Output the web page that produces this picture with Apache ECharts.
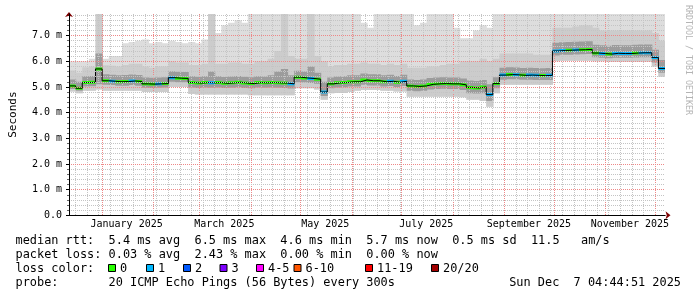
<!DOCTYPE html>
<html><head><meta charset="utf-8">
<script src="https://cdn.jsdelivr.net/npm/echarts@6/dist/echarts.min.js"></script>
<style>html,body{margin:0;padding:0;background:#fff}#c{width:697px;height:297px}</style>
</head><body><div id="c"></div>
<script>
// ---- data (one sample every 4 days, last 360 days) ----
const startTime = '2024-12-12T04:44:51';
const endTime = '2025-12-07T04:44:51';
const sampleDays = 4;

const median = [5.04,4.95,5.17,5.18,5.70,5.24,5.22,5.20,5.21,5.23,
5.21,5.12,5.11,5.12,5.13,5.36,5.34,5.33,5.17,5.15,
5.17,5.16,5.17,5.14,5.16,5.18,5.15,5.13,5.17,5.16,
5.17,5.16,5.15,5.12,5.38,5.35,5.33,5.30,4.80,5.12,
5.16,5.17,5.20,5.20,5.27,5.24,5.24,5.20,5.22,5.18,
5.22,5.04,5.02,5.04,5.10,5.12,5.13,5.12,5.12,5.08,
4.98,4.96,5.00,4.70,5.13,5.46,5.48,5.47,5.45,5.46,
5.45,5.44,5.45,6.40,6.42,6.43,6.44,6.45,6.46,6.32,
6.30,6.28,6.31,6.30,6.30,6.32,6.33,6.33,6.15,5.72];

const loss = [0,0,0,0,0,0,1,0,0,1,
0,0,0,1,0,1,0,0,0,0,
0,1,0,0,0,0,0,0,0,0,
0,0,0,1,0,0,1,0,1,0,
0,0,0,0,0,0,0,0,1,0,
1,0,0,0,0,0,0,0,0,0,
0,0,0,1,0,1,0,1,0,1,
1,0,1,1,1,0,1,0,0,0,
1,0,1,1,1,0,1,1,1,1];

const smokeMin = [4.82,4.75,4.85,4.85,4.90,4.85,4.85,4.85,4.85,4.85,
4.85,4.80,4.80,4.80,4.80,5.00,5.00,5.00,4.72,4.70,
4.70,4.70,4.70,4.70,4.70,4.70,4.70,4.68,4.68,4.68,
4.68,4.68,4.68,4.68,4.95,4.95,4.95,4.90,4.50,4.75,
4.76,4.76,4.80,4.85,4.88,4.88,4.88,4.85,4.85,4.82,
4.82,4.62,4.62,4.62,4.62,4.62,4.62,4.62,4.62,4.60,
4.50,4.50,4.45,4.23,4.75,5.08,5.08,5.08,5.08,5.08,
5.08,5.08,5.08,6.00,6.02,6.02,6.02,6.02,6.02,6.00,
6.00,5.98,5.98,5.98,5.98,5.98,5.98,5.98,5.80,5.40];

const smokeLow = [4.92,4.85,5.02,5.03,5.10,5.08,5.07,5.05,5.05,5.07,
5.05,4.97,4.96,4.97,4.98,5.20,5.18,5.18,4.98,4.96,
4.98,4.97,4.98,4.96,4.97,4.99,4.96,4.95,4.98,4.97,
4.98,4.97,4.96,4.94,5.18,5.17,5.15,5.12,4.65,4.95,
4.98,4.99,5.02,5.02,5.08,5.06,5.06,5.02,5.04,5.00,
5.04,4.85,4.83,4.85,4.90,4.92,4.93,4.92,4.92,4.88,
4.75,4.74,4.75,4.45,4.95,5.28,5.30,5.30,5.28,5.28,
5.27,5.27,5.27,6.22,6.25,6.25,6.26,6.27,6.28,6.16,
6.14,6.12,6.14,6.14,6.14,6.15,6.16,6.16,5.95,5.55];

const smokeHigh = [5.29,5.20,5.42,5.43,6.30,5.49,5.47,5.45,5.46,5.48,
5.46,5.37,5.36,5.37,5.38,5.61,5.59,5.58,5.42,5.40,
5.42,5.60,5.42,5.39,5.41,5.43,5.40,5.38,5.42,5.41,
5.45,5.60,5.70,5.45,5.63,5.60,5.80,5.55,5.20,5.37,
5.41,5.42,5.45,5.45,5.52,5.49,5.49,5.45,5.47,5.43,
5.47,5.29,5.27,5.29,5.35,5.37,5.38,5.37,5.37,5.33,
5.25,5.23,5.27,5.10,5.38,5.75,5.77,5.76,5.74,5.75,
5.74,5.73,5.74,6.72,6.74,6.75,6.76,6.77,6.78,6.64,
6.62,6.60,6.63,6.62,6.62,6.64,6.65,6.65,6.45,6.05];

const smokeMid = [5.64,5.55,5.77,5.80,7.84,5.84,5.82,5.80,5.85,5.90,
5.90,5.80,5.75,5.80,5.80,6.00,5.95,5.95,5.85,5.85,
5.90,7.84,5.90,5.90,5.95,5.95,5.90,5.90,6.00,6.00,
6.10,6.40,7.84,6.20,6.10,6.10,7.84,6.20,6.00,5.80,
5.85,5.85,5.90,5.90,5.95,5.90,5.90,5.85,5.90,5.85,
5.90,5.75,5.75,5.75,5.80,5.80,5.85,5.90,5.90,6.00,
6.00,6.00,6.10,6.00,6.10,6.30,6.30,6.30,6.30,6.30,
6.25,6.25,6.25,7.30,7.30,7.30,7.35,7.40,7.40,7.30,
7.20,7.20,7.20,7.20,7.20,7.20,7.20,7.20,7.10,6.80];

const smokeMax = [6.00,6.00,6.00,6.10,7.84,6.10,6.20,6.20,6.70,6.75,
6.80,6.85,6.70,6.75,6.70,6.80,6.75,6.70,6.75,6.70,
6.85,7.84,7.10,7.40,7.50,7.60,7.50,7.84,7.84,7.84,
7.84,7.84,7.84,7.84,7.84,7.84,7.84,7.84,7.84,7.84,
7.84,7.84,7.84,7.84,7.50,7.30,7.84,7.84,7.84,7.84,
7.84,7.84,7.40,7.50,7.84,7.84,7.84,7.84,7.30,6.90,
6.90,7.20,7.40,7.30,7.84,7.84,7.84,7.84,7.84,7.84,
7.84,7.84,7.84,7.84,7.84,7.84,7.84,7.84,7.84,7.84,
7.84,7.84,7.84,7.84,7.84,7.84,7.84,7.84,7.84,7.84];

const tickDates = ['2025-01-16','2025-03-16','2025-05-16','2025-07-16','2025-09-16','2025-11-16'];
const tickLabels = ['January 2025','March 2025','May 2025','July 2025','September 2025','November 2025'];
const yMax = 7.84;

const statRows = [
  'median rtt:  5.4 ms avg  6.5 ms max  4.6 ms min  5.7 ms now  0.5 ms sd  11.5   am/s',
  'packet loss: 0.03 % avg  2.43 % max  0.00 % min  0.00 % now'
];
const lossLabels = ['0','1','2','3','4-5','6-10','11-19','20/20'];
const lossColors = ['#26ff00','#00b8ff','#0059ff','#7e00ff','#ff00ff','#ff5500','#ff0000','#a10000'];
const probeText = 'probe:       20 ICMP Echo Pings (56 Bytes) every 300s';
const dateText = 'Sun Dec  7 04:44:51 2025';

// ---- layout / helpers ----
const DAY = 86400000;
const t0 = new Date(startTime).getTime();
const tEnd = new Date(endTime).getTime();
const tAt = k => t0 + k * sampleDays * DAY;
const tickTs = tickDates.map(s => new Date(s + 'T00:00:00').getTime());
const monthStarts = [];
for (let m = 0; m < 12; m++) monthStarts.push(new Date(2025, m, 1, 0, 0, 0).getTime());
const weekStarts = [];
for (let d = new Date(2024, 11, 16); d.getTime() < tEnd; d = new Date(d.getFullYear(), d.getMonth(), d.getDate() + 7)) weekStarts.push(d.getTime());

const MONO = '"DejaVu Sans Mono", "Liberation Mono", monospace';

function bandSeries(lo, hi, color) {
  return {
    type: 'custom', z: 1, silent: true, clip: true,
    encode: {x: [0, 1], y: [2, 3]},
    data: lo.map((v, k) => [tAt(k), tAt(k + 1), v, hi[k]]),
    renderItem(params, api) {
      const a = api.coord([api.value(0), api.value(3)]);
      const b = api.coord([api.value(1), api.value(2)]);
      return {type: 'rect', shape: {x: a[0], y: a[1], width: b[0] - a[0] + 0.6, height: b[1] - a[1]}, style: {fill: color}};
    }
  };
}

// crisp dotted vertical grid lines at given times
function vGridSeries(times, stroke) {
  return {
    type: 'custom', z: 1, silent: true, clip: false,
    encode: {x: 0, y: 1},
    data: times.map(t => [t, 0]),
    renderItem(params, api) {
      const p = api.coord([api.value(0), 0]);
      const x = Math.round(p[0]) + 0.5;
      const cs = params.coordSys;
      return {type: 'line', shape: {x1: x, y1: cs.y, x2: x, y2: cs.y + cs.height}, style: {stroke, lineWidth: 1, lineDash: [1, 1]}};
    }
  };
}

const chart = echarts.init(document.getElementById('c'), null, {renderer: 'canvas'});

const boxX = [108, 146, 183, 219.5, 256, 293.5, 365, 431];
const graphics = [];
statRows.forEach((s, i) => graphics.push({type: 'text', x: 15.5, y: 241 + i * 14.3, style: {text: s, font: '11.9px ' + MONO, fill: '#000', verticalAlign: 'middle'}}));
graphics.push({type: 'text', x: 15.5, y: 268.5, style: {text: 'loss color:', font: '11.9px ' + MONO, fill: '#000', verticalAlign: 'middle'}});
lossLabels.forEach((l, i) => {
  graphics.push({type: 'rect', shape: {x: boxX[i] + 0.5, y: 264.5, width: 7, height: 7}, style: {fill: lossColors[i], stroke: '#000', lineWidth: 1}});
  graphics.push({type: 'text', x: boxX[i] + 12, y: 268.5, style: {text: l, font: '11.9px ' + MONO, fill: '#000', verticalAlign: 'middle'}});
});
graphics.push({type: 'text', x: 15.5, y: 283, style: {text: probeText, font: '11.9px ' + MONO, fill: '#000', verticalAlign: 'middle'}});
graphics.push({type: 'text', x: 681, y: 283, style: {text: dateText, font: '11.9px ' + MONO, fill: '#000', align: 'right', verticalAlign: 'middle'}});
graphics.push({type: 'text', x: 688.5, y: 60, rotation: -Math.PI / 2, style: {text: 'RRDTOOL / TOBI OETIKER', font: '8.3px ' + MONO, fill: '#b4b4b4', align: 'center', verticalAlign: 'middle'}});

const RED = '#ee8888';
const GRAY = '#c4c4c4';
const redGrid = {show: true, lineStyle: {color: RED, type: [1, 1], width: 1}};
const grayGrid = {show: true, lineStyle: {color: GRAY, type: [1, 1], width: 1}};

chart.setOption({
  animation: false,
  backgroundColor: '#fff',
  grid: {left: 67, top: 14, width: 598, height: 201.3, containLabel: false},
  xAxis: [
    {type: 'value', min: t0, max: tEnd, position: 'bottom', z: 5,
     axisLine: {show: true, onZero: false, lineStyle: {color: '#000', width: 1}},
     axisTick: {show: false},
     splitLine: {show: false},
     axisLabel: {customValues: tickTs, margin: 4, fontSize: 10, fontFamily: MONO, color: '#000',
       formatter: v => { const i = tickTs.findIndex(t => Math.abs(t - v) < DAY); return i >= 0 ? tickLabels[i] : ''; }}},
    {type: 'value', min: t0, max: tEnd, position: 'bottom', z: 3,
     axisLine: {show: true, onZero: false, lineStyle: {color: '#7f0000', width: 1}, symbol: ['none', 'arrow'], symbolSize: [6, 5], symbolOffset: [0, 5.5]},
     axisLabel: {show: false},
     axisTick: {show: false},
     splitLine: {show: false}}
  ],
  yAxis: [
    {type: 'value', min: 0, max: yMax, interval: 1, position: 'left', z: 4,
     name: 'Seconds', nameLocation: 'middle', nameGap: 50,
     nameTextStyle: {fontFamily: MONO, fontSize: 11, color: '#000'},
     axisLine: {show: true, onZero: false, lineStyle: {color: '#000', width: 1}},
     axisTick: {show: true, length: 3, lineStyle: {color: '#000'}},
     axisLabel: {margin: 7, fontSize: 10, fontFamily: MONO, color: '#000', showMaxLabel: false,
       formatter: v => v === 0 ? '0.0' : v.toFixed(1) + ' m'},
     splitLine: Object.assign({showMinLine: false, showMaxLine: false}, redGrid)},
    {type: 'value', min: 0, max: yMax, interval: 0.2, position: 'left', z: 3,
     axisLine: {show: true, onZero: false, lineStyle: {color: '#7f0000', width: 1}, symbol: ['none', 'arrow'], symbolSize: [6, 5], symbolOffset: [0, 2]},
     axisTick: {show: true, length: 2, lineStyle: {color: '#666'}},
     axisLabel: {show: false},
     splitLine: Object.assign({showMinLine: false, showMaxLine: false}, grayGrid)}
  ],
  graphic: graphics,
  series: [
    bandSeries(smokeMin, smokeMax, '#dddddd'),
    bandSeries(smokeMin, smokeMid, '#cccccc'),
    bandSeries(smokeLow, smokeHigh, '#9c9c9c'),
    vGridSeries(weekStarts, GRAY),
    vGridSeries(monthStarts, RED),
    {type: 'line', z: 1, step: 'end', symbol: 'none', silent: true,
     lineStyle: {color: '#000', width: 1},
     data: median.map((v, k) => [tAt(k), v]).concat([[tEnd, median[median.length - 1]]])},
    {type: 'custom', z: 1, silent: true, clip: true,
     encode: {x: [0, 1], y: 2},
     data: median.map((v, k) => [tAt(k), tAt(k + 1), v, loss[k]]),
     renderItem(params, api) {
       const a = api.coord([api.value(0), api.value(2)]);
       const b = api.coord([api.value(1), api.value(2)]);
       return {type: 'rect', shape: {x: a[0], y: a[1] - 1.5, width: b[0] - a[0] + 0.3, height: 3}, style: {fill: lossColors[api.value(3)]}};
     }}
  ]
});
</script></body></html>
